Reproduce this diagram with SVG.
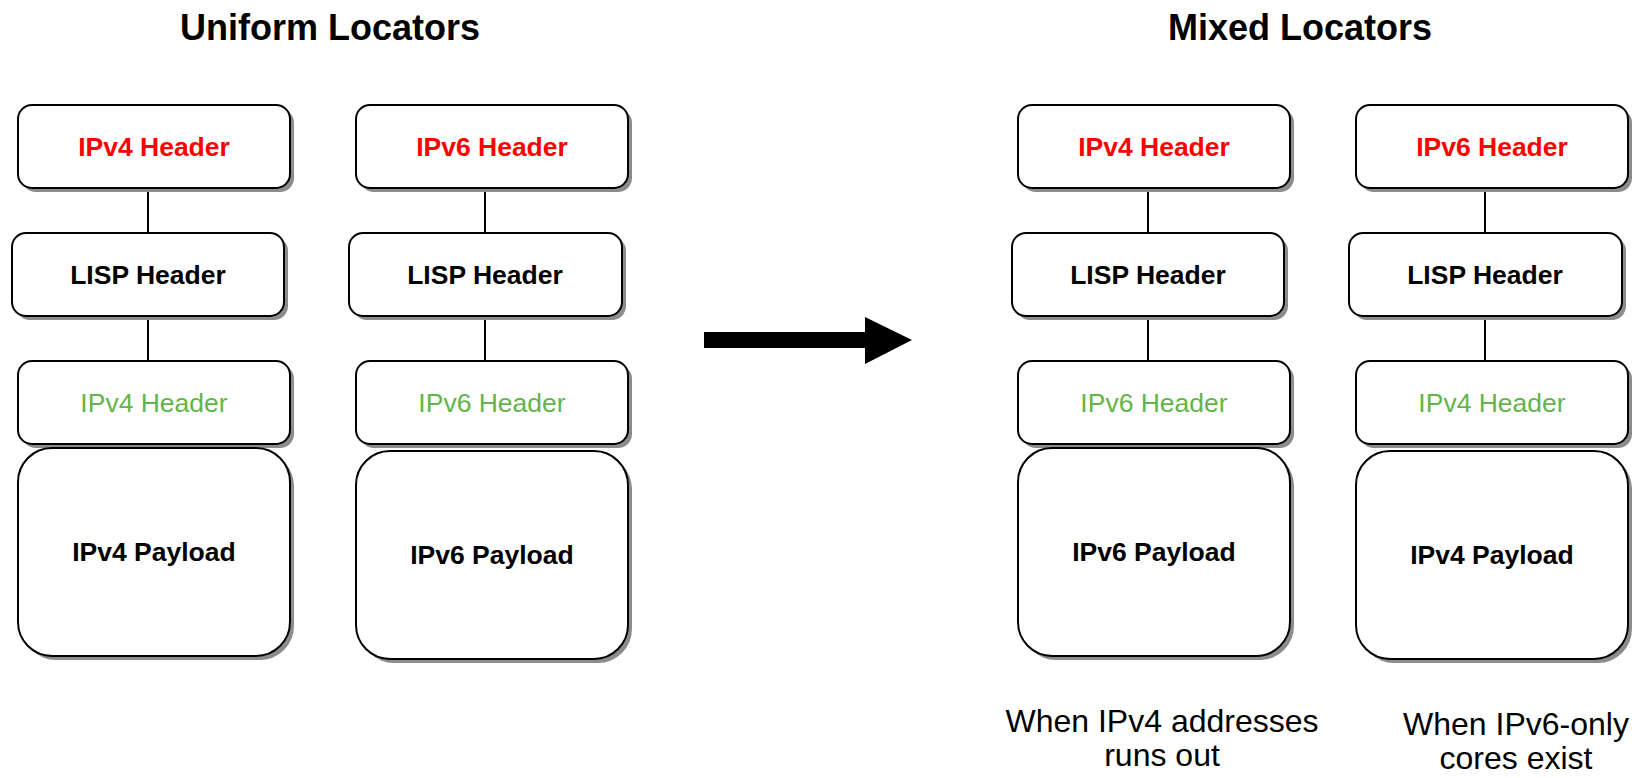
<svg xmlns="http://www.w3.org/2000/svg" width="1644" height="778" viewBox="0 0 1644 778">
  <style>
    .box { fill: #ffffff; stroke: #000000; stroke-width: 2; }
    .shadow { fill: #8c8c8c; }
    .lbl { font-family: "Liberation Sans", "DejaVu Sans", sans-serif; font-size: 26.5px; text-anchor: middle; dominant-baseline: central; }
    .red { fill: #ff0000; font-weight: bold; }
    .green { fill: #62b44a; }
    .blk { fill: #000000; font-weight: bold; }
    .title { font-family: "Liberation Sans", "DejaVu Sans", sans-serif; font-size: 36px; font-weight: bold; text-anchor: middle; fill: #000000; }
    .note { font-family: "Liberation Sans", "DejaVu Sans", sans-serif; font-size: 32px; text-anchor: middle; fill: #000000; }
    .conn { stroke: #000000; stroke-width: 2; fill: none; }
  </style>
  <rect width="1644" height="778" fill="#ffffff"/>

  <text class="title" x="330" y="40">Uniform Locators</text>
  <text class="title" x="1300" y="40">Mixed Locators</text>

  <!-- connectors between the header boxes -->
  <g id="connectors">
    <line class="conn" x1="148" y1="188" x2="148" y2="233"/>
    <line class="conn" x1="148" y1="316" x2="148" y2="361"/>
    <line class="conn" x1="485" y1="188" x2="485" y2="233"/>
    <line class="conn" x1="485" y1="316" x2="485" y2="361"/>
    <line class="conn" x1="1148" y1="188" x2="1148" y2="233"/>
    <line class="conn" x1="1148" y1="316" x2="1148" y2="361"/>
    <line class="conn" x1="1485" y1="188" x2="1485" y2="233"/>
    <line class="conn" x1="1485" y1="316" x2="1485" y2="361"/>
    <polygon id="transition-arrow" points="704,332 865,332 865,317 912,340 865,364 865,348 704,348" fill="#000000"/>
  </g>

  <!-- column 1: IPv4 over IPv4 -->
  <g id="c1-outer">
    <rect class="shadow" x="22" y="109" width="272" height="83" rx="14"/>
    <rect class="box" x="18" y="105" width="272" height="83" rx="14"/>
    <text class="lbl red" x="154" y="147">IPv4 Header</text>
  </g>
  <g id="c1-lisp">
    <rect class="shadow" x="16" y="237" width="272" height="83" rx="14"/>
    <rect class="box" x="12" y="233" width="272" height="83" rx="14"/>
    <text class="lbl blk" x="148" y="275">LISP Header</text>
  </g>
  <g id="c1-inner">
    <rect class="shadow" x="22" y="365" width="272" height="83" rx="14"/>
    <rect class="box" x="18" y="361" width="272" height="83" rx="14"/>
    <text class="lbl green" x="154" y="403">IPv4 Header</text>
  </g>
  <g id="c1-payload">
    <rect class="shadow" x="22" y="452" width="272" height="208" rx="34"/>
    <rect class="box" x="18" y="448" width="272" height="208" rx="34"/>
    <text class="lbl blk" x="154" y="552">IPv4 Payload</text>
  </g>

  <!-- column 2: IPv6 over IPv6 -->
  <g id="c2-outer">
    <rect class="shadow" x="360" y="109" width="272" height="83" rx="14"/>
    <rect class="box" x="356" y="105" width="272" height="83" rx="14"/>
    <text class="lbl red" x="492" y="147">IPv6 Header</text>
  </g>
  <g id="c2-lisp">
    <rect class="shadow" x="353" y="237" width="273" height="83" rx="14"/>
    <rect class="box" x="349" y="233" width="273" height="83" rx="14"/>
    <text class="lbl blk" x="485" y="275">LISP Header</text>
  </g>
  <g id="c2-inner">
    <rect class="shadow" x="360" y="365" width="272" height="83" rx="14"/>
    <rect class="box" x="356" y="361" width="272" height="83" rx="14"/>
    <text class="lbl green" x="492" y="403">IPv6 Header</text>
  </g>
  <g id="c2-payload">
    <rect class="shadow" x="360" y="455" width="272" height="208" rx="34"/>
    <rect class="box" x="356" y="451" width="272" height="208" rx="34"/>
    <text class="lbl blk" x="492" y="555">IPv6 Payload</text>
  </g>

  <!-- column 3: IPv6 over IPv4 -->
  <g id="c3-outer">
    <rect class="shadow" x="1022" y="109" width="272" height="83" rx="14"/>
    <rect class="box" x="1018" y="105" width="272" height="83" rx="14"/>
    <text class="lbl red" x="1154" y="147">IPv4 Header</text>
  </g>
  <g id="c3-lisp">
    <rect class="shadow" x="1016" y="237" width="272" height="83" rx="14"/>
    <rect class="box" x="1012" y="233" width="272" height="83" rx="14"/>
    <text class="lbl blk" x="1148" y="275">LISP Header</text>
  </g>
  <g id="c3-inner">
    <rect class="shadow" x="1022" y="365" width="272" height="83" rx="14"/>
    <rect class="box" x="1018" y="361" width="272" height="83" rx="14"/>
    <text class="lbl green" x="1154" y="403">IPv6 Header</text>
  </g>
  <g id="c3-payload">
    <rect class="shadow" x="1022" y="452" width="272" height="208" rx="34"/>
    <rect class="box" x="1018" y="448" width="272" height="208" rx="34"/>
    <text class="lbl blk" x="1154" y="552">IPv6 Payload</text>
  </g>

  <!-- column 4: IPv4 over IPv6 -->
  <g id="c4-outer">
    <rect class="shadow" x="1360" y="109" width="272" height="83" rx="14"/>
    <rect class="box" x="1356" y="105" width="272" height="83" rx="14"/>
    <text class="lbl red" x="1492" y="147">IPv6 Header</text>
  </g>
  <g id="c4-lisp">
    <rect class="shadow" x="1353" y="237" width="273" height="83" rx="14"/>
    <rect class="box" x="1349" y="233" width="273" height="83" rx="14"/>
    <text class="lbl blk" x="1485" y="275">LISP Header</text>
  </g>
  <g id="c4-inner">
    <rect class="shadow" x="1360" y="365" width="272" height="83" rx="14"/>
    <rect class="box" x="1356" y="361" width="272" height="83" rx="14"/>
    <text class="lbl green" x="1492" y="403">IPv4 Header</text>
  </g>
  <g id="c4-payload">
    <rect class="shadow" x="1360" y="455" width="272" height="208" rx="34"/>
    <rect class="box" x="1356" y="451" width="272" height="208" rx="34"/>
    <text class="lbl blk" x="1492" y="555">IPv4 Payload</text>
  </g>

  <!-- captions -->
  <text class="note" x="1162" y="732">When IPv4 addresses</text>
  <text class="note" x="1162" y="766">runs out</text>
  <text class="note" x="1516" y="735">When IPv6-only</text>
  <text class="note" x="1516" y="769">cores exist</text>
</svg>
